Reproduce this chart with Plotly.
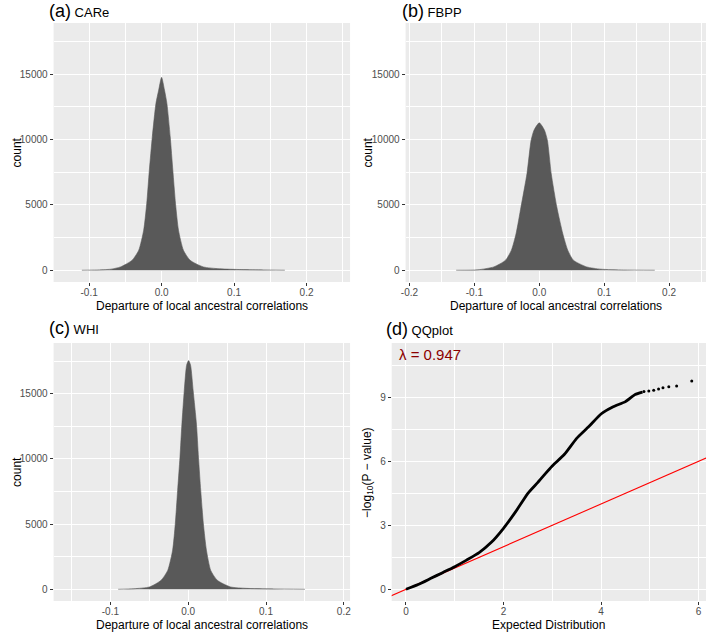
import plotly.graph_objects as go
from plotly.subplots import make_subplots

# ---------------- data ----------------
# (a) CARe histogram outline
care_x = [-0.110, -0.090, -0.070, -0.0566, -0.0406, -0.0315, -0.0247, -0.0205, -0.0169, -0.0128,
          -0.0078, -0.004, 0.000, 0.004, 0.0073, 0.0119, 0.0155, 0.0192, 0.0233, 0.0301, 0.0393,
          0.0575, 0.080, 0.110, 0.140, 0.170]
care_count = [0, 20, 80, 255, 765, 1530, 3060, 5100, 7650, 10200,
              12750, 13770, 14750, 13770, 12750, 10200, 7650, 5100, 3060, 1530, 765,
              255, 110, 50, 25, 0]

# (b) FBPP histogram outline
fbpp_x = [-0.128, -0.095, -0.070, -0.052, -0.0429, -0.0357, -0.0281, -0.0189, -0.0125, -0.008,
          0.0, 0.008, 0.0125, 0.0184, 0.027, 0.0362, 0.0439, 0.0526, 0.073, 0.095, 0.130, 0.178]
fbpp_count = [0, 30, 255, 765, 1530, 2805, 4845, 7395, 9945, 10710,
              11270, 10710, 9945, 7395, 4845, 2805, 1530, 765, 255, 80, 20, 0]

# (c) WHI histogram outline
whi_x = [-0.090, -0.070, -0.0497, -0.0348, -0.0263, -0.020, -0.0166, -0.0136, -0.0106, -0.0081,
         -0.0051, -0.002, 0.0005, 0.003, 0.0064, 0.0106, 0.0132, 0.0161, 0.0195, 0.0234,
         0.0289, 0.0374, 0.0544, 0.075, 0.110, 0.150]
whi_count = [0, 40, 180, 690, 1450, 3000, 5020, 7570, 10120, 12670,
             15220, 17200, 17550, 17200, 15220, 12670, 10120, 7570, 5020, 3000,
             1450, 690, 180, 70, 25, 0]

# (d) QQ plot: dense part of the curve and sparse tail points
qq_expected = [0.0, 0.25, 0.5, 0.75, 1.0, 1.25, 1.5, 1.75, 2.0, 2.25, 2.5, 2.7, 2.85, 3.0,
               3.25, 3.5, 3.75, 4.0, 4.25, 4.5, 4.7, 4.85]
qq_observed = [0.0, 0.22, 0.5, 0.78, 1.06, 1.38, 1.72, 2.2, 2.86, 3.64, 4.5, 5.0, 5.4, 5.78,
               6.33, 7.08, 7.63, 8.22, 8.56, 8.8, 9.14, 9.25]
tail_expected = [4.88, 4.98, 5.08, 5.18, 5.27, 5.39, 5.55, 5.86]
tail_observed = [9.27, 9.30, 9.33, 9.39, 9.45, 9.50, 9.53, 9.77]
lambda_gc = 0.947

hist_tickvals = [-0.2, -0.1, 0.0, 0.1, 0.2]
hist_ticktext = ["-0.2", "-0.1", "0.0", "0.1", "0.2"]
count_ticks = [0, 5000, 10000, 15000]
count_ticktext = ["0", "5000", "10000", "15000"]
qq_xticks = [0, 2, 4, 6]
qq_yticks = [0, 3, 6, 9]

# ---------------- figure ----------------
W, H = 709, 632
FONT = "Liberation Sans, Arial, sans-serif"
HIST_FILL = "#595959"


def fx(p):
    return p / W


def fy(p):
    return 1 - p / H


fig = make_subplots(rows=2, cols=2)

for xs, ys, r, c in [(care_x, care_count, 1, 1), (fbpp_x, fbpp_count, 1, 2), (whi_x, whi_count, 2, 1)]:
    fig.add_trace(go.Scatter(x=xs, y=ys, mode="lines", fill="tozeroy",
                             fillcolor=HIST_FILL,
                             line=dict(color=HIST_FILL, width=0.6, shape="spline", smoothing=0.6),
                             hoverinfo="skip", showlegend=False), row=r, col=c)

# y = x reference line
fig.add_trace(go.Scatter(x=[-0.4, 6.3], y=[-0.4, 6.3], mode="lines",
                         line=dict(color="#FF0000", width=1.1), showlegend=False), row=2, col=2)
fig.add_trace(go.Scatter(x=qq_expected, y=qq_observed, mode="lines",
                         line=dict(color="black", width=2.8, shape="spline", smoothing=0.5),
                         showlegend=False), row=2, col=2)
fig.add_trace(go.Scatter(x=tail_expected, y=tail_observed, mode="markers",
                         marker=dict(color="black", size=3), showlegend=False), row=2, col=2)

tickfont = dict(family=FONT, size=10, color="#4D4D4D")
common = dict(showline=False, zeroline=False, ticks="outside", ticklen=3, tickwidth=1,
              tickcolor="#333333", tickfont=tickfont, showgrid=True, gridcolor="white",
              gridwidth=1.1)
xcommon = dict(common, ticklabelstandoff=-2)

dom_top = [fy(282), fy(23)]
dom_bot = [fy(601), fy(343)]
dom_left = [fx(49), fx(348)]
dom_right_b = [fx(404), fx(707)]
dom_right_d = [fx(390), fx(707)]

MINOR_W = 0.7
minor_hist_x = dict(dtick=0.05, tick0=0, showgrid=True, gridcolor="white", gridwidth=MINOR_W)
minor_count = dict(dtick=2500, tick0=0, showgrid=True, gridcolor="white", gridwidth=MINOR_W)

fig.update_layout(
    xaxis=dict(domain=dom_left, range=[-0.149, 0.26], tickvals=hist_tickvals, ticktext=hist_ticktext,
               minor=minor_hist_x, anchor="y", **xcommon),
    yaxis=dict(domain=dom_top, range=[-900, 18900], tickvals=count_ticks, ticktext=count_ticktext,
               minor=minor_count, anchor="x", **common),
    xaxis2=dict(domain=dom_right_b, range=[-0.206, 0.257], tickvals=hist_tickvals, ticktext=hist_ticktext,
                minor=minor_hist_x, anchor="y2", **xcommon),
    yaxis2=dict(domain=dom_top, range=[-900, 18900], tickvals=count_ticks, ticktext=count_ticktext,
                minor=minor_count, anchor="x2", **common),
    xaxis3=dict(domain=dom_left, range=[-0.173, 0.208], tickvals=hist_tickvals, ticktext=hist_ticktext,
                minor=minor_hist_x, anchor="y3", **xcommon),
    yaxis3=dict(domain=dom_bot, range=[-900, 18900], tickvals=count_ticks, ticktext=count_ticktext,
                minor=minor_count, anchor="x3", **common),
    xaxis4=dict(domain=dom_right_d, range=[-0.293, 6.153], tickvals=qq_xticks,
                minor=dict(dtick=1, tick0=0, showgrid=True, gridcolor="white", gridwidth=MINOR_W),
                anchor="y4", **xcommon),
    yaxis4=dict(domain=dom_bot, range=[-0.55, 11.55], tickvals=qq_yticks,
                minor=dict(dtick=1.5, tick0=0, showgrid=True, gridcolor="white", gridwidth=MINOR_W),
                anchor="x4", **common),
    width=W, height=H,
    margin=dict(l=0, r=0, t=0, b=0),
    paper_bgcolor="white",
    plot_bgcolor="#EBEBEB",
    font=dict(family=FONT, color="black"),
    showlegend=False,
)

annotations = []


def add_text(text, x, y, size=12, angle=0, xanchor="center", color="black"):
    annotations.append(dict(text=text, x=fx(x), y=fy(y), xref="paper", yref="paper",
                            showarrow=False, xanchor=xanchor, yanchor="middle", textangle=angle,
                            font=dict(family=FONT, size=size, color=color)))


# panel titles
add_text("<span style='font-size:18px'>(a)</span> CARe", 42, 11, size=13, xanchor="left")
add_text("<span style='font-size:18px'>(b)</span> FBPP", 398, 11, size=13, xanchor="left")
add_text("<span style='font-size:18px'>(c)</span> WHI", 42, 328, size=13, xanchor="left")
add_text("<span style='font-size:18px'>(d)</span> QQplot", 382, 329, size=13, xanchor="left")

# axis titles
xt = "Departure of local ancestral correlations"
add_text(xt, 198.5, 306)
add_text(xt, 555.5, 306)
add_text(xt, 198.5, 625)
add_text("Expected Distribution", 548.5, 625)
add_text("count", 12, 152.5, angle=-90)
add_text("count", 366, 152.5, angle=-90)
add_text("count", 12, 472, angle=-90)
add_text("\u2212log<sub>10</sub>(P \u2212 value)", 366, 472, angle=-90)

fig.update_layout(annotations=annotations)

# lambda label inside QQ panel (data coordinates)
fig.add_annotation(text="\u03bb = " + f"{lambda_gc:.3f}", x=0.5, y=11.0, xref="x4", yref="y4",
                   showarrow=False, font=dict(family=FONT, size=15, color="#8B0000"))

fig.write_html("out.html", config={"displayModeBar": False},
               post_script="document.body.style.margin='0px';")
